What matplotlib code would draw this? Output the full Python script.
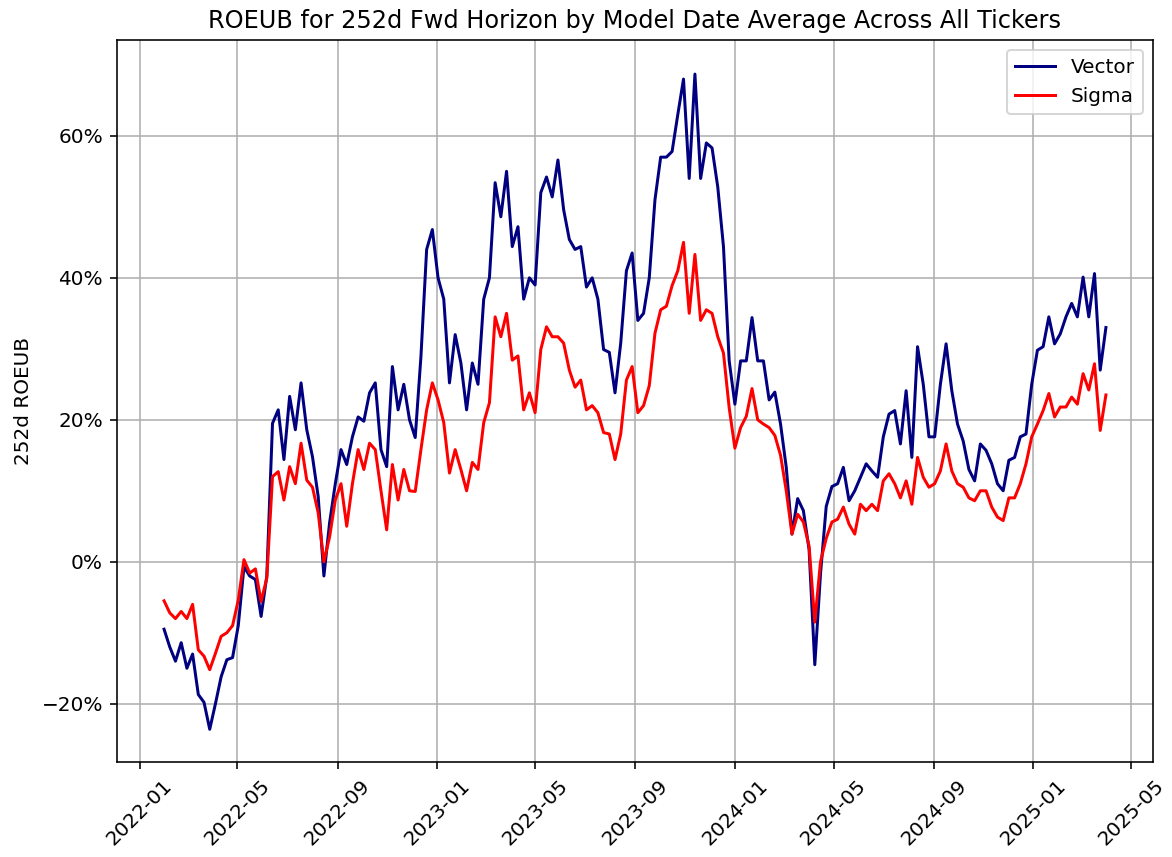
import matplotlib

matplotlib.use("Agg")
import matplotlib.dates as mdates
import matplotlib.pyplot as plt
import pandas as pd
from matplotlib.ticker import PercentFormatter

# weekly model dates (in %)
dates = pd.date_range("2022-01-31", periods=166, freq="7D")

vector = [
    -9.5, -12, -14, -11.4, -15, -13, -18.7, -19.8, -23.6, -20,
    -16.2, -13.8, -13.5, -9, -0.7, -2, -2.5, -7.7, -2, 19.5,
    21.4, 14.4, 23.3, 18.6, 25.2, 18.6, 14.8, 9.2, -2, 5.5,
    11, 15.8, 13.7, 17.6, 20.4, 19.8, 23.8, 25.2, 15.8, 13.4,
    27.5, 21.4, 25, 20, 17.5, 28.9, 44, 46.8, 40, 37,
    25.2, 32, 28, 21.4, 28, 25, 37, 40, 53.4, 48.6,
    55, 44.4, 47.2, 37, 40, 39, 52, 54.2, 51.4, 56.6,
    49.6, 45.4, 44, 44.4, 38.7, 40, 37, 29.9, 29.5, 23.8,
    30.8, 41, 43.5, 34, 35, 40, 51, 57, 57, 57.8,
    63, 68, 54, 68.7, 54, 59, 58.3, 52.8, 44.4, 28.3,
    22.2, 28.3, 28.3, 34.4, 28.3, 28.3, 22.8, 23.9, 19.4, 13.3,
    3.9, 8.9, 7.2, 1.7, -14.5, -1.7, 7.8, 10.6, 11, 13.3,
    8.6, 10, 11.9, 13.8, 12.8, 11.9, 17.6, 20.8, 21.3, 16.6,
    24.1, 14.7, 30.3, 25, 17.6, 17.6, 25, 30.7, 24.1, 19.4,
    17, 13, 11.4, 16.6, 15.7, 13.8, 11, 10, 14.3, 14.7,
    17.6, 18, 25, 29.8, 30.3, 34.5, 30.7, 32.1, 34.5, 36.4,
    34.5, 40.1, 34.5, 40.6, 27, 33,
]

sigma = [
    -5.5, -7.2, -8, -7, -8, -6, -12.4, -13.3, -15.2, -12.9,
    -10.5, -10, -9, -5.4, 0.3, -1.6, -1, -5.6, -2.3, 12,
    12.7, 8.7, 13.4, 11, 16.7, 11.5, 10.5, 6.9, 0, 3.5,
    8.7, 11, 5, 11, 15.8, 13, 16.7, 15.8, 10, 4.5,
    13.7, 8.7, 13, 10, 9.9, 15.8, 21.4, 25.2, 22.8, 19.6,
    12.5, 15.8, 13, 10, 14, 13, 19.6, 22.4, 34.5, 31.7,
    35, 28.4, 29, 21.4, 23.8, 21, 29.9, 33.1, 31.7, 31.7,
    30.8, 27, 24.6, 25.6, 21.4, 22, 21, 18.2, 18, 14.4,
    18, 25.6, 27.5, 21, 22, 24.8, 32.2, 35.5, 36, 38.9,
    41, 45, 35, 43.3, 34, 35.5, 35, 31.7, 29.4, 21.7,
    16, 18.9, 20.5, 24.4, 20, 19.4, 18.9, 17.8, 15, 10,
    3.9, 6.7, 5.6, 2.2, -8.5, 0, 3.3, 5.6, 6, 7.7,
    5.3, 3.9, 8.1, 7.2, 8.1, 7.2, 11.4, 12.4, 11, 9,
    11.4, 8.1, 14.7, 11.9, 10.5, 11, 12.8, 16.6, 12.8, 11,
    10.5, 9, 8.6, 10, 10, 7.7, 6.3, 5.8, 9, 9,
    11, 13.8, 17.6, 19.4, 21.3, 23.7, 20.4, 21.8, 21.8, 23.2,
    22.2, 26.5, 24.2, 27.9, 18.5, 23.5,
]

DPI = 144
fig = plt.figure(figsize=(1172 / DPI, 857 / DPI), dpi=DPI)
ax = fig.add_axes([0.0998, 0.1109, 0.884, 0.8424])

ax.plot(dates, vector, color="navy", lw=1.5, label="Vector")
ax.plot(dates, sigma, color="red", lw=1.5, label="Sigma")

ax.set_ylim(-28.2, 73.5)
ax.yaxis.set_major_formatter(PercentFormatter(xmax=100, decimals=0))
ax.xaxis.set_major_locator(mdates.MonthLocator(bymonth=[1, 5, 9]))
ax.xaxis.set_major_formatter(mdates.DateFormatter("%Y-%m"))
plt.setp(ax.get_xticklabels(), rotation=45)

ax.set_title("ROEUB for 252d Fwd Horizon by Model Date Average Across All Tickers")
ax.set_ylabel("252d ROEUB")
ax.grid(True)
ax.legend(loc="upper right")

fig.savefig("out.png", dpi=DPI)
